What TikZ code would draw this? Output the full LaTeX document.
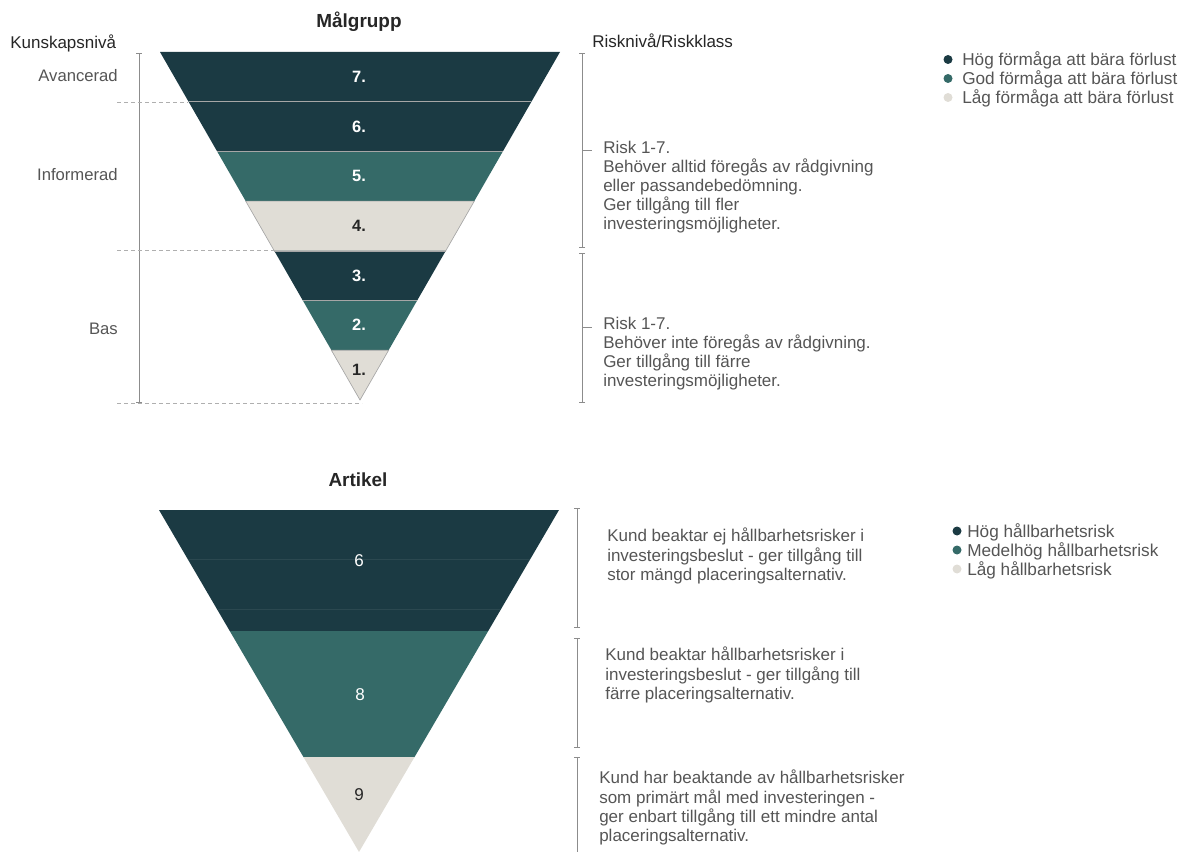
\documentclass[tikz,border=0pt]{standalone}
\usepackage{fontspec}
\setmainfont{Liberation Sans}
\usetikzlibrary{arrows.meta}

\definecolor{hogrisk}{HTML}{1B3A43}
\definecolor{medelrisk}{HTML}{356A68}
\definecolor{lagrisk}{HTML}{E0DDD6}
\definecolor{graText}{HTML}{555555}
\definecolor{rubrik}{HTML}{262626}
\definecolor{skala}{HTML}{8C8C8C}

\tikzset{
  titel/.style={font=\fontsize{14.2}{16}\selectfont\bfseries, text=rubrik, inner sep=0pt, anchor=base},
  axelrubrik/.style={font=\fontsize{12.75}{15}\selectfont, text=rubrik, inner sep=0pt, anchor=base west},
  niva/.style={font=\fontsize{12.5}{15}\selectfont, text=graText, inner sep=0pt, anchor=east},
  beskrivning/.style={font=\fontsize{12.75}{14.3}\selectfont, text=graText, align=left, inner sep=0pt, anchor=north west},
  forklaring/.style={font=\fontsize{12.9}{14.3}\selectfont, text=graText, inner sep=0pt, anchor=base west},
  prick/.style={circle, inner sep=0pt, minimum size=6.75pt},
  siffra/.style={font=\fontsize{12.3}{14}\selectfont\bfseries, inner sep=0pt},
  artikelsiffra/.style={font=\fontsize{12.8}{14}\selectfont, inner sep=0pt},
  skalstreck/.style={draw=skala, line width=0.75pt},
  klammer/.style={skalstreck, {Bar[width=4.5pt]}-{Bar[width=4.5pt]}},
  stodlinje/.style={draw=skala!70, line width=0.6pt, dash pattern=on 3pt off 2.25pt},
  bandkant/.style={draw=black!35, line width=0.5pt},
}

\begin{document}
\begin{tikzpicture}[x=0.75pt, y=-0.75pt]
\useasboundingbox (0,0) rectangle (1178,852);

% rubriker
\node[titel] (malgrupp) at (359,28) {Målgrupp};
\node[axelrubrik] (kunskap) at (10,49) {Kunskapsnivå};
\node[axelrubrik] (riskniva) at (592,48) {Risknivå/Riskklass};

% tratt, målgrupp
\fill[hogrisk] (160,52) -- (560,52) -- (531.43,101.71) -- (188.57,101.71) -- cycle;
\fill[hogrisk] (188.57,101.71) -- (531.43,101.71) -- (502.86,151.43) -- (217.14,151.43) -- cycle;
\fill[medelrisk] (217.14,151.43) -- (502.86,151.43) -- (474.29,201.14) -- (245.71,201.14) -- cycle;
\filldraw[bandkant, fill=lagrisk] (245.71,201.14) -- (474.29,201.14) -- (445.71,250.86) -- (274.29,250.86) -- cycle;
\fill[hogrisk] (274.29,250.86) -- (445.71,250.86) -- (417.14,300.57) -- (302.86,300.57) -- cycle;
\fill[medelrisk] (302.86,300.57) -- (417.14,300.57) -- (388.57,350.29) -- (331.43,350.29) -- cycle;
\filldraw[bandkant, fill=lagrisk] (331.43,350.29) -- (388.57,350.29) -- (360,400) -- cycle;
\draw[bandkant] (188.57,101.71) -- (531.43,101.71);
\draw[bandkant] (217.14,151.43) -- (502.86,151.43);
\draw[bandkant] (274.29,250.86) -- (445.71,250.86);
\draw[bandkant] (302.86,300.57) -- (417.14,300.57);

\node[siffra, text=white] (b7) at (359,77) {7.};
\node[siffra, text=white] (b6) at (359,126.5) {6.};
\node[siffra, text=white] (b5) at (359,176) {5.};
\node[siffra, text=rubrik] (b4) at (359,226) {4.};
\node[siffra, text=white] (b3) at (359,275.5) {3.};
\node[siffra, text=white] (b2) at (359,325) {2.};
\node[siffra, text=rubrik] (b1) at (359,370) {1.};

% kunskapsnivå
\coordinate (kTopp) at (139,53);
\coordinate (kBotten) at (139,403);
\draw[klammer] (kTopp) -- (kBotten);
\draw[stodlinje] (117,102) -- (188,102);
\draw[stodlinje] (117,250.5) -- (274,250.5);
\draw[stodlinje] (117,403) -- (362,403);
\node[niva] (avancerad) at (118,76) {Avancerad};
\node[niva] (informerad) at (118,175) {Informerad};
\node[niva] (bas) at (118,329) {Bas};

% risknivå
\coordinate (rTopp) at (582,53);
\coordinate (rMitt1) at (582,248);
\coordinate (rMitt2) at (582,253);
\coordinate (rBotten) at (582,403);
\draw[klammer] (rTopp) -- (rMitt1);
\draw[klammer] (rMitt2) -- (rBotten);
\draw[skalstreck] (582,151) -- (592,151);
\draw[skalstreck] (582,328) -- (592,328);
\node[beskrivning] (risk1) at (603,140.7) {Risk 1-7.\\Behöver alltid föregås av rådgivning\\eller passandebedömning.\\Ger tillgång till fler\\investeringsmöjligheter.};
\node[beskrivning] (risk2) at (603,316.7) {Risk 1-7.\\Behöver inte föregås av rådgivning.\\Ger tillgång till färre\\investeringsmöjligheter.};

% förklaring, målgrupp
\node[prick, fill=hogrisk] (p1) at (948,59.5) {};
\node[prick, fill=medelrisk] (p2) at (948,78.5) {};
\node[prick, fill=lagrisk] (p3) at (948,97.5) {};
\node[forklaring] (f1) at (962,66) {Hög förmåga att bära förlust};
\node[forklaring] (f2) at (962,85) {God förmåga att bära förlust};
\node[forklaring] (f3) at (962,104) {Låg förmåga att bära förlust};

% tratt, artikel
\node[titel] (artikel) at (358,486) {Artikel};
\fill[hogrisk] (159,510) -- (559,510) -- (488.24,631) -- (229.76,631) -- cycle;
\fill[medelrisk] (229.76,631) -- (488.24,631) -- (414.56,757) -- (303.44,757) -- cycle;
\fill[lagrisk] (303.44,757) -- (414.56,757) -- (359,852) -- cycle;
\draw[hogrisk!93!white, line width=0.4pt] (187.65,559) -- (530.35,559);
\draw[hogrisk!93!white, line width=0.4pt] (216.9,609) -- (501.1,609);
\node[artikelsiffra, text=white] (a6) at (359,561) {6};
\node[artikelsiffra, text=white] (a8) at (360,695) {8};
\node[artikelsiffra, text=rubrik] (a9) at (359,795) {9};

% hållbarhetsrisk
\coordinate (hTopp1) at (577,508);
\coordinate (hBotten1) at (577,628);
\coordinate (hTopp2) at (577,638);
\coordinate (hBotten2) at (577,748);
\coordinate (hTopp3) at (577,757);
\coordinate (hBotten3) at (577,852);
\draw[klammer] (hTopp1) -- (hBotten1);
\draw[klammer] (hTopp2) -- (hBotten2);
\draw[skalstreck, {Bar[width=4.5pt]}-] (hTopp3) -- (hBotten3);
\node[beskrivning] (kund1) at (607,528) {Kund beaktar ej hållbarhetsrisker i\\investeringsbeslut - ger tillgång till\\stor mängd placeringsalternativ.};
\node[beskrivning] (kund2) at (605,647) {Kund beaktar hållbarhetsrisker i\\investeringsbeslut - ger tillgång till\\färre placeringsalternativ.};
\node[beskrivning] (kund3) at (599,770) {Kund har beaktande av hållbarhetsrisker\\som primärt mål med investeringen -\\ger enbart tillgång till ett mindre antal\\placeringsalternativ.};

% förklaring, artikel
\node[prick, fill=hogrisk] (q1) at (957,531) {};
\node[prick, fill=medelrisk] (q2) at (957,550) {};
\node[prick, fill=lagrisk] (q3) at (957,569) {};
\node[forklaring] (g1) at (967,537) {Hög hållbarhetsrisk};
\node[forklaring] (g2) at (967,556) {Medelhög hållbarhetsrisk};
\node[forklaring] (g3) at (967,575) {Låg hållbarhetsrisk};
\end{tikzpicture}
\end{document}
